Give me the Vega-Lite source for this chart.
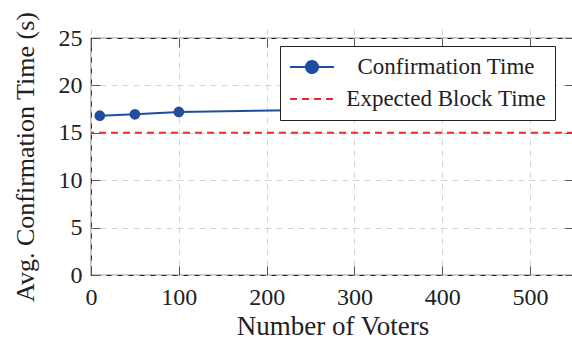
{
  "$schema": "https://vega.github.io/schema/vega-lite/v6.json",
  "width": 483,
  "height": 237,
  "autosize": "none",
  "padding": {"left": 91, "top": 38, "right": 0, "bottom": 66},
  "config": {
    "font": "Liberation Serif",
    "view": {"stroke": "#222", "strokeWidth": 1.2},
    "axis": {
      "labelFont": "Liberation Serif",
      "titleFont": "Liberation Serif",
      "labelFontSize": 24,
      "titleFontSize": 26,
      "labelColor": "#222",
      "titleColor": "#222",
      "titleFontWeight": "normal",
      "domain": false,
      "tickColor": "#555",
      "tickSize": 9,
      "offset": -9,
      "tickWidth": 1,
      "gridColor": "#d4d4d4",
      "gridDash": [6, 5],
      "gridWidth": 1
    }
  },
  "datasets": {
    "conf": [
      {"voters": 10, "time": 16.8, "series": "Confirmation Time"},
      {"voters": 50, "time": 16.95, "series": "Confirmation Time"},
      {"voters": 100, "time": 17.2, "series": "Confirmation Time"},
      {"voters": 250, "time": 17.4, "series": "Confirmation Time"},
      {"voters": 500, "time": 17.6, "series": "Confirmation Time"}
    ],
    "exp": [
      {"time": 15, "series": "Expected Block Time"}
    ]
  },
  "resolve": {"axis": {"x": "independent", "y": "independent"}},
  "layer": [
    {
      "data": {"name": "conf"},
      "mark": {"type": "line", "strokeWidth": 2},
      "encoding": {
        "x": {"field": "voters", "type": "quantitative", "scale": {"domain": [0, 550], "nice": false},
          "axis": {"orient": "bottom", "values": [0, 100, 200, 300, 400, 500], "grid": true, "labelFlush": false, "title": "Number of Voters", "titleFontSize": 27, "labelPadding": 10, "titlePadding": 4}},
        "y": {"field": "time", "type": "quantitative", "scale": {"domain": [0, 25], "nice": false},
          "axis": {"orient": "left", "values": [0, 5, 10, 15, 20, 25], "grid": true, "title": "Avg. Confirmation Time (s)", "titleFontSize": 26, "labelPadding": 9, "titlePadding": 20}},
        "color": {"field": "series", "type": "nominal", "scale": {"domain": ["Confirmation Time", "Expected Block Time"], "range": ["#1f4e9e", "#ee2b2b"]},
          "legend": {
            "title": null,
            "orient": "none",
            "legendX": 189,
            "legendY": 8,
            "symbolSize": 484,
            "symbolStrokeWidth": 2,
            "labelFont": "Liberation Serif",
            "labelFontSize": 23,
            "labelColor": "#222",
            "labelAlign": "center",
            "labelOffset": 133,
            "labelLimit": 400,
            "strokeColor": "#222",
            "fillColor": "white",
            "padding": 9,
            "rowPadding": 8,
            "encode": {
              "symbols": {
                "update": {
                  "shape": {"signal": "datum.value === 'Confirmation Time' ? 'M-1,0H3M0.455,0A0.545,0.545,0,1,1,1.545,0A0.545,0.545,0,1,1,0.455,0Z' : 'M-1,0H3'"},
                  "fill": {"signal": "datum.value === 'Confirmation Time' ? '#1f4e9e' : 'transparent'"},
                  "strokeDash": {"signal": "datum.value === 'Confirmation Time' ? [1, 0] : [7, 5]"}
                }
              }
            }
          }
        }
      }
    },
    {
      "data": {"name": "conf"},
      "mark": {"type": "point", "filled": true, "size": 115, "opacity": 1},
      "encoding": {
        "x": {"field": "voters", "type": "quantitative", "scale": {"domain": [0, 550], "nice": false},
          "axis": {"orient": "top", "values": [0, 100, 200, 300, 400, 500], "labels": false, "grid": false, "title": null}},
        "y": {"field": "time", "type": "quantitative", "scale": {"domain": [0, 25], "nice": false},
          "axis": {"orient": "right", "values": [0, 5, 10, 15, 20, 25], "labels": false, "grid": false, "title": null}},
        "color": {"field": "series", "type": "nominal", "scale": {"domain": ["Confirmation Time", "Expected Block Time"], "range": ["#1f4e9e", "#ee2b2b"]}}
      }
    },
    {
      "data": {"name": "exp"},
      "mark": {"type": "rule", "strokeWidth": 2, "strokeDash": [7, 5]},
      "encoding": {
        "y": {"field": "time", "type": "quantitative", "scale": {"domain": [0, 25], "nice": false}, "axis": null},
        "color": {"field": "series", "type": "nominal", "scale": {"domain": ["Confirmation Time", "Expected Block Time"], "range": ["#1f4e9e", "#ee2b2b"]}}
      }
    }
  ]
}
